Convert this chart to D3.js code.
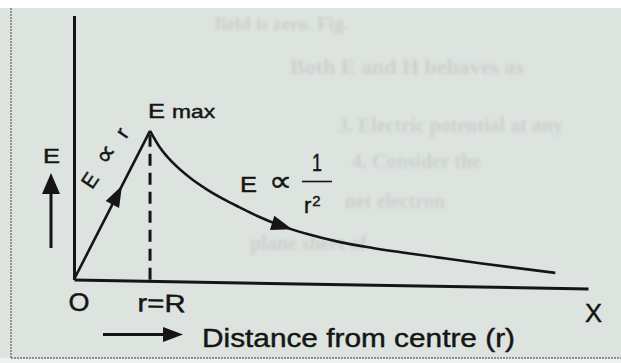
<!DOCTYPE html>
<html>
<head>
<meta charset="utf-8">
<script src="https://cdn.jsdelivr.net/npm/d3@7"></script>
<style>
  html, body { margin: 0; padding: 0; background: #ffffff; }
  svg { display: block; }
  .ink { fill: #151515; stroke: #151515; stroke-width: 0.45; font-family: "Liberation Sans", Arial, "DejaVu Sans", sans-serif; }
</style>
</head>
<body>
<svg id="chart" width="621" height="363"></svg>
<script>
// Field of a charged sphere: E grows linearly inside (r < R), falls off outside.
// Distances are in units of R, field in units of E_max.
const risingR  = [0, 1];
const risingE  = [0, 1];
const fallingR = [1, 1.13, 1.3, 1.53, 1.75, 1.96, 2.18, 2.41, 2.71, 3.07, 3.5, 3.93, 4.78, 5.34, 6.33];
const fallingE = [1, 0.89, 0.79, 0.69, 0.615, 0.555, 0.50, 0.445, 0.385, 0.33, 0.28, 0.245, 0.19, 0.155, 0.10];
const xTickValues = [0, 1];
const xTickLabels = ["O", "r=R"];
const arrowOnRise = 0.63;   // r where the direction arrow sits on each branch
const arrowOnFall = 2.87;
const xMax = 6.76;
const yMax = 1.76;

// faint print showing through from the reverse of the page
const throughLines = [
  { text: "field is zero. Fig.", x: 215, y: 30, size: 19 },
  { text: "Both E and H behaves as", x: 290, y: 74, size: 22 },
  { text: "3. Electric potential at any", x: 338, y: 132, size: 20 },
  { text: "4. Consider the", x: 352, y: 168, size: 20 },
  { text: "net electron", x: 345, y: 208, size: 20 },
  { text: "plane sheet of", x: 250, y: 250, size: 20 }
];

const svg = d3.select("#chart");
const W = 621, H = 363;
const ink = "#151515";

// paper
svg.append("rect").attr("width", W).attr("height", H).attr("fill", "#ffffff");
svg.append("rect").attr("x", 0).attr("y", 8).attr("width", W).attr("height", 350).attr("fill", "#dde3df");
svg.append("rect").attr("x", 0).attr("y", 358).attr("width", W).attr("height", 5).attr("fill", "#eef1ef");

const defs = svg.append("defs");
defs.append("filter").attr("id", "soft").append("feGaussianBlur").attr("stdDeviation", 1.5);

svg.append("g").attr("filter", "url(#soft)")
  .selectAll("text").data(throughLines).join("text")
  .attr("x", d => d.x).attr("y", d => d.y)
  .attr("font-size", d => d.size)
  .attr("font-family", "'Liberation Serif', 'DejaVu Serif', serif")
  .attr("font-weight", "bold")
  .attr("fill", "#cad0cc")
  .text(d => d.text);

// frame of the figure box
svg.append("line").attr("x1", 11).attr("x2", 11).attr("y1", 8).attr("y2", 358)
  .attr("stroke", "#8d928f").attr("stroke-width", 2).attr("stroke-dasharray", "2,1");
svg.append("line").attr("x1", 11).attr("x2", W).attr("y1", 358).attr("y2", 358)
  .attr("stroke", "#8d928f").attr("stroke-width", 2).attr("stroke-dasharray", "2,1");

// scales
const x = d3.scaleLinear().domain([0, xMax]).range([0, 514]);
const y = d3.scaleLinear().domain([0, yMax]).range([0, -264]);

const ox = 74, oy = 279.5, skew = 1; // origin and slight tilt of the print
const plot = svg.append("g").attr("transform", `translate(${ox},${oy}) skewY(${skew})`);

// axes
const xAxis = d3.axisBottom(x).tickValues(xTickValues).tickSize(0).tickSizeOuter(0)
  .tickFormat((d, i) => xTickLabels[i]);
const gx = plot.append("g").call(xAxis);
gx.select(".domain").attr("stroke", ink).attr("stroke-width", 3);
gx.selectAll(".tick text")
  .attr("class", "ink").attr("fill", ink)
  .attr("font-size", 25).attr("y", 31).attr("dy", 0)
  .attr("dx", (d, i) => [4.5, 11][i])
  .attr("textLength", (d, i) => [21, 48][i]).attr("lengthAdjust", "spacingAndGlyphs");

const yAxis = d3.axisLeft(y).tickValues([]).tickSize(0).tickSizeOuter(0);
const gy = plot.append("g").call(yAxis);
gy.select(".domain").attr("stroke", ink).attr("stroke-width", 3);

// dashed drop line at r = R
plot.append("line")
  .attr("x1", x(1)).attr("x2", x(1)).attr("y1", y(1) + 4).attr("y2", y(0))
  .attr("stroke", ink).attr("stroke-width", 3).attr("stroke-dasharray", "12,7");

// the two branches
const rise = risingR.map((r, i) => [r, risingE[i]]);
const fall = fallingR.map((r, i) => [r, fallingE[i]]);
const line = d3.line().x(d => x(d[0])).y(d => y(d[1]));
plot.append("path").attr("d", line(rise)).attr("fill", "none")
  .attr("stroke", ink).attr("stroke-width", 2.6);
plot.append("path").attr("d", line.curve(d3.curveMonotoneX)(fall)).attr("fill", "none")
  .attr("stroke", ink).attr("stroke-width", 2.6);

// direction arrowheads placed on each branch
function valueAt(rs, es, r) {
  const i = Math.max(1, d3.bisectLeft(rs, r));
  const t = (r - rs[i - 1]) / (rs[i] - rs[i - 1]);
  return es[i - 1] + t * (es[i] - es[i - 1]);
}
function arrowHead(rs, es, r, len, half) {
  const px = x(r), py = y(valueAt(rs, es, r));
  const qx = x(r - 0.05), qy = y(valueAt(rs, es, r - 0.05));
  let dx = px - qx, dy = py - qy;
  const n = Math.hypot(dx, dy); dx /= n; dy /= n;
  const bx = px - dx * len, by = py - dy * len;
  return `M${px},${py}L${bx - dy * half},${by + dx * half}L${bx + dy * half},${by - dx * half}Z`;
}
plot.append("path").attr("d", arrowHead(risingR, risingE, arrowOnRise, 21, 7.5)).attr("fill", ink);
plot.append("path").attr("d", arrowHead(fallingR, fallingE, arrowOnFall, 21, 7.5)).attr("fill", ink);

// annotations
const peakX = ox + x(1), peakY = oy + y(1) + x(1) * Math.tan(skew * Math.PI / 180);

function label(txt, lx, ly, size, len, extra) {
  const t = svg.append("text").attr("class", "ink").attr("x", lx).attr("y", ly)
    .attr("font-size", size).text(txt);
  if (len) t.attr("textLength", len).attr("lengthAdjust", "spacingAndGlyphs");
  if (extra) extra(t);
  return t;
}

label("E", peakX - 2, peakY - 13, 20, 17);
label("max", peakX + 22, peakY - 13, 19, 43);

// E axis label with upward arrow
label("E", 43, 163, 21, 17);
svg.append("line").attr("x1", 51).attr("x2", 51).attr("y1", 248).attr("y2", 190)
  .attr("stroke", ink).attr("stroke-width", 3);
svg.append("path").attr("d", "M51,173L42,194L60,194Z").attr("fill", ink);

// E ∝ r along the rising branch
const prop = svg.append("text").attr("class", "ink").attr("font-size", 21)
  .attr("text-anchor", "middle").attr("transform", "translate(111,162) rotate(-56)")
  .attr("textLength", 68).attr("lengthAdjust", "spacing");
prop.append("tspan").text("E ");
prop.append("tspan").attr("font-size", 27).text("\u221D");
prop.append("tspan").text(" r");

// E ∝ 1/r²
label("E", 240, 192, 22, 17);
label("\u221D", 269, 191, 29, 23);
svg.append("line").attr("x1", 302).attr("x2", 332).attr("y1", 181.5).attr("y2", 181.5)
  .attr("stroke", ink).attr("stroke-width", 1.6);
label("1", 312, 171, 23, 10);
const rsq = svg.append("text").attr("class", "ink").attr("x", 304).attr("y", 213).attr("font-size", 22);
rsq.append("tspan").text("r");
rsq.append("tspan").attr("font-size", 15).attr("dy", -7).attr("dx", 1).text("2");

// X at the end of the axis
label("X", 585, 322, 25, 17);

// distance label with arrow
svg.append("line").attr("x1", 103).attr("x2", 168).attr("y1", 334.5).attr("y2", 334.5)
  .attr("stroke", ink).attr("stroke-width", 3);
svg.append("path").attr("d", "M183,334.5L163,327L163,342Z").attr("fill", ink);
label("Distance from centre (r)", 202, 347, 26, 313);
</script>
</body>
</html>
